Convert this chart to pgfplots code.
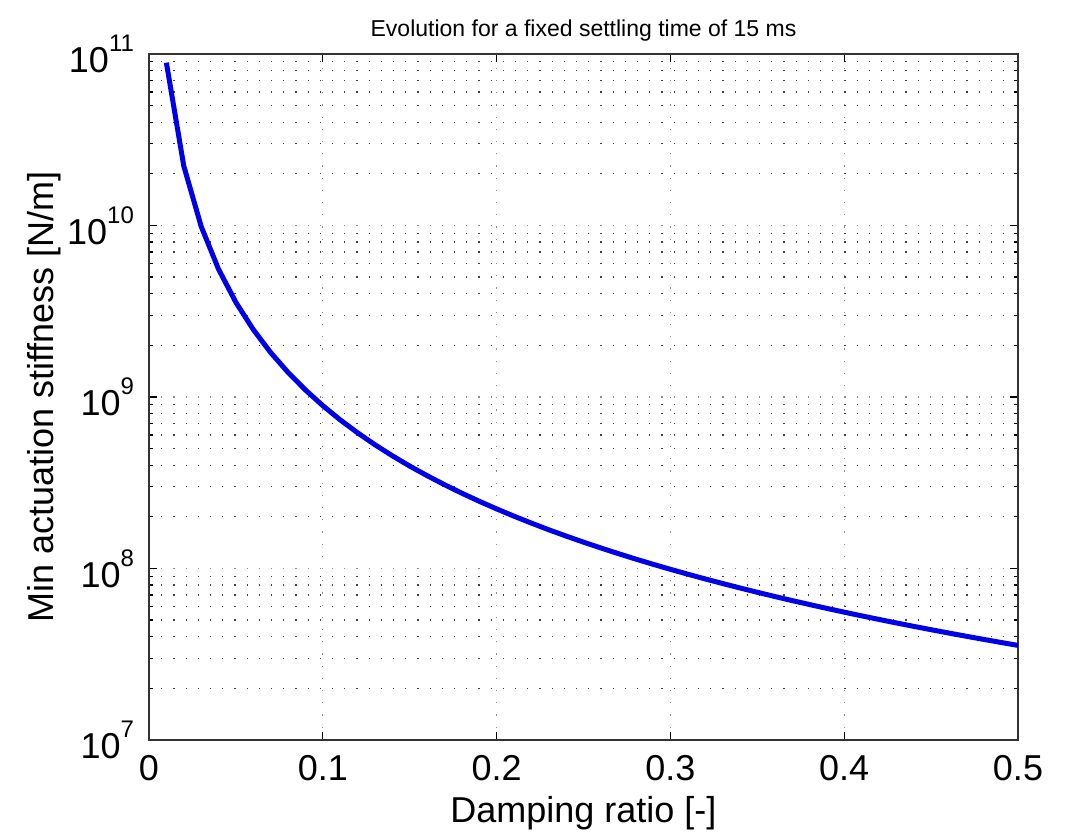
\documentclass[border=0pt]{standalone}
\usepackage{pgfplots}
\pgfplotsset{compat=1.18}
\usepackage{fontspec}
\setmainfont{Liberation Sans}

% damping ratio vs. minimum stiffness
\pgfplotstableread{
z     k
0.01  8.90e10
0.02  2.225e10
0.03  9.889e9
0.04  5.563e9
0.05  3.560e9
0.06  2.472e9
0.07  1.816e9
0.08  1.391e9
0.09  1.099e9
0.10  8.900e8
0.11  7.355e8
0.12  6.181e8
0.13  5.266e8
0.14  4.541e8
0.15  3.956e8
0.16  3.477e8
0.17  3.080e8
0.18  2.747e8
0.19  2.465e8
0.20  2.225e8
0.21  2.018e8
0.22  1.839e8
0.23  1.682e8
0.24  1.545e8
0.25  1.424e8
0.26  1.317e8
0.27  1.221e8
0.28  1.135e8
0.29  1.058e8
0.30  9.889e7
0.31  9.261e7
0.32  8.691e7
0.33  8.173e7
0.34  7.699e7
0.35  7.265e7
0.36  6.867e7
0.37  6.501e7
0.38  6.163e7
0.39  5.851e7
0.40  5.563e7
0.41  5.294e7
0.42  5.045e7
0.43  4.813e7
0.44  4.597e7
0.45  4.395e7
0.46  4.206e7
0.47  4.029e7
0.48  3.863e7
0.49  3.707e7
0.50  3.560e7
}\stiff

\newcommand{\ex}[1]{10\raisebox{1.1ex}{\fontsize{12}{12}\selectfont #1}}

\begin{document}
\begin{tikzpicture}[font=\fontsize{18}{20}\selectfont]
\begin{axis}[
    name=ax,
    scale only axis,
    width=434.5pt, height=343pt,
    ymode=log,
    xmin=0, xmax=0.5,
    ymin=1e7, ymax=1e11,
    xtick={0,0.1,0.2,0.3,0.4,0.5},
    xticklabels={0,0.1,0.2,0.3,0.4,0.5},
    ytick={1e7,1e8,1e9,1e10,1e11},
    yticklabels={\ex{7},\ex{8},\ex{9},\ex{10},\ex{11}},
    tick align=inside,
    major tick length=4pt,
    minor tick length=2.2pt,
    every tick/.style={black, line width=0.6pt},
    axis line style={line width=0.8pt, black!80},
    grid=both,
    major grid style={black!45, line width=0.6pt, dash pattern=on 0.6pt off 5.5pt},
    minor grid style={black!75, line width=0.6pt, dash pattern=on 0.6pt off 5.5pt},
    xlabel={Damping ratio [-]},
    ylabel={Min actuation stiffness [N/m]},
    xlabel style={yshift=-1pt},
    ylabel style={yshift=-4pt},
    title={Evolution for a fixed settling time of 15 ms},
    title style={font=\fontsize{11.5}{13}\selectfont, yshift=-3pt},
    xticklabel style={yshift=-4pt},
    yticklabel style={xshift=-4pt},
]
\addplot[color={rgb,255:red,0;green,0;blue,230}, line width=2.5pt] table[x=z, y=k] {\stiff};
\end{axis}
\path[use as bounding box] ([xshift=-74.5pt, yshift=-45.5pt]ax.south west) rectangle ([xshift=25pt, yshift=27pt]ax.north east);
\end{tikzpicture}
\end{document}
